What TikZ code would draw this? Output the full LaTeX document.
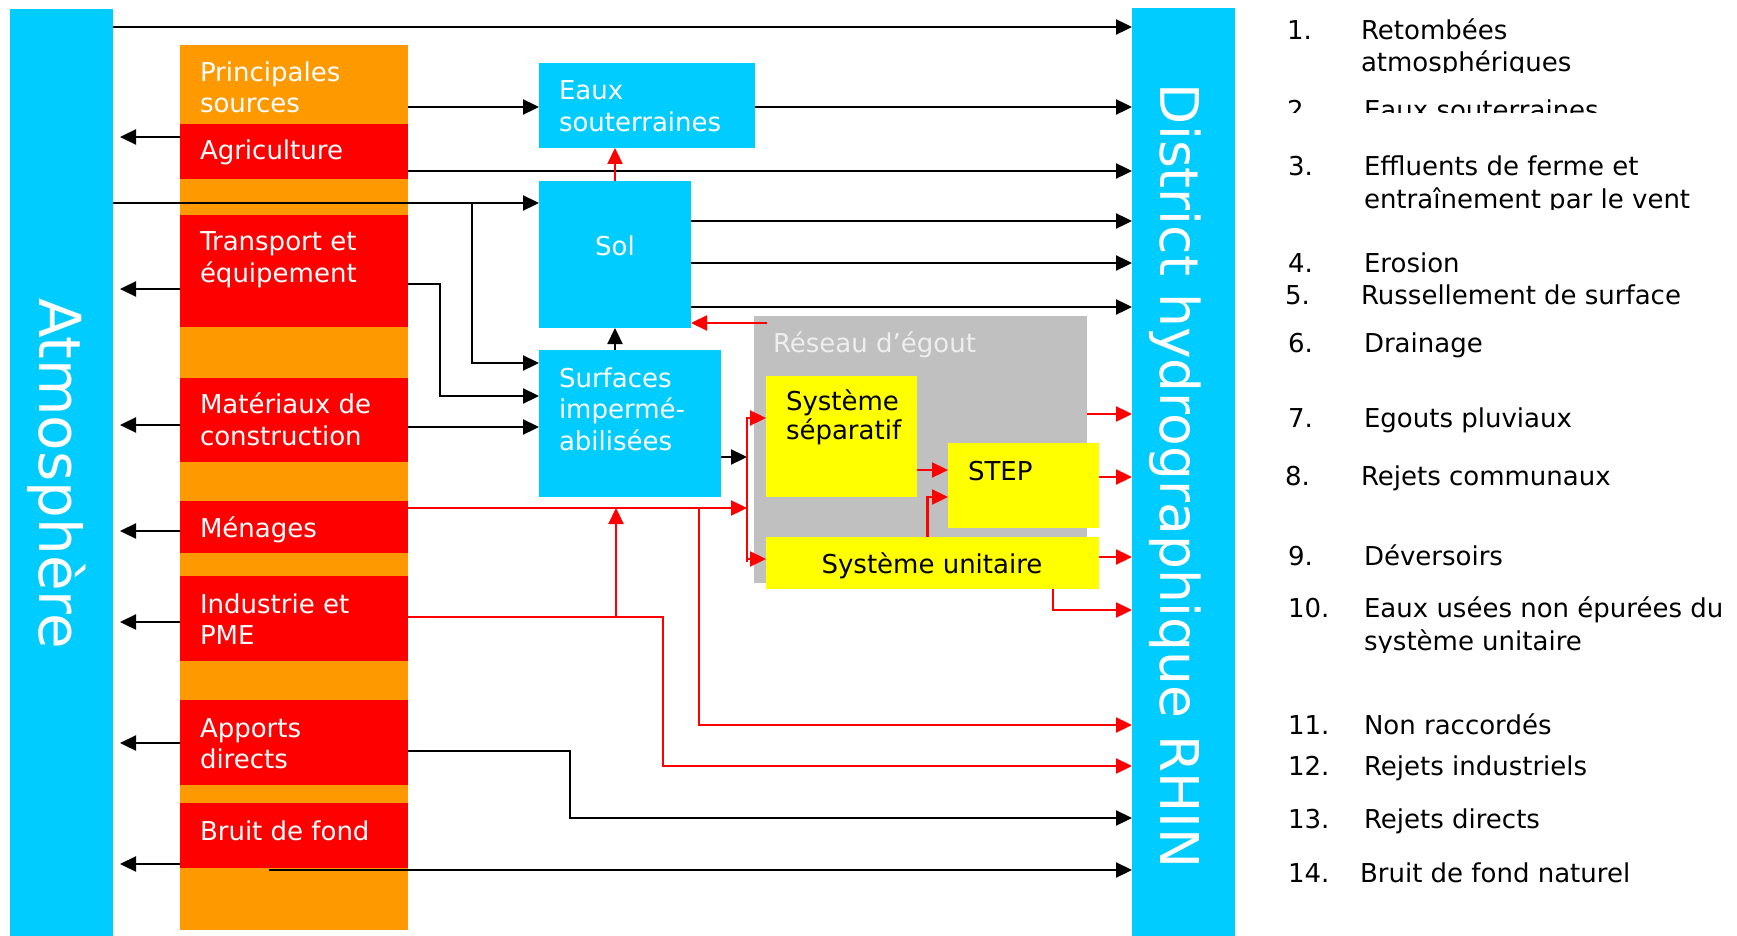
\documentclass[tikz,border=0pt]{standalone}
\usepackage{fontspec}
\setmainfont{DejaVu Sans}
\usetikzlibrary{arrows.meta,calc}
\definecolor{cyanbar}{RGB}{0,204,255}
\definecolor{orangecol}{RGB}{255,153,0}
\definecolor{redbox}{RGB}{255,0,0}
\definecolor{yellowbox}{RGB}{255,255,0}
\definecolor{greybox}{RGB}{192,192,192}
\definecolor{reseautxt}{RGB}{238,238,238}
\begin{document}
\begin{tikzpicture}[x=1pt,y=-1pt,
  box/.style={draw=none,inner sep=0pt,outer sep=0pt,anchor=north west,rectangle},
  lbl/.style={anchor=base west,inner sep=0pt,outer sep=0pt,font=\fontsize{26}{31}\selectfont},
  wlbl/.style={lbl,text=white},
  leg/.style={lbl},
  bigtxt/.style={rotate=-90,anchor=base west,inner sep=0pt,outer sep=0pt,text=white,font=\fontsize{54}{60}\selectfont},
  arr/.style={line width=2.3pt,-{Triangle[length=16pt,width=15pt]}},
  rarr/.style={arr,draw=red},
  rline/.style={line width=2.3pt,draw=red}
]
\useasboundingbox (0,0) rectangle (1737,936);

% side bars
\node[box,fill=cyanbar,minimum width=103pt,minimum height=927pt] (atm) at (10,9) {};
\node[bigtxt,font=\fontsize{58}{64}\selectfont] (atmtxt) at (39,298) {Atmosphère};
\node[box,fill=cyanbar,minimum width=103pt,minimum height=928pt] (dist) at (1132,8) {};
\node[bigtxt,font=\fontsize{53.5}{60}\selectfont] (disttxt) at (1160,84) {District hydrographique RHIN};

% source column
\node[box,fill=orangecol,minimum width=228pt,minimum height=885pt] (col) at (180,45) {};
\node[box,fill=redbox,minimum width=228pt,minimum height=55pt] (agri) at (180,124) {};
\node[box,fill=redbox,minimum width=228pt,minimum height=112pt] (trans) at (180,215) {};
\node[box,fill=redbox,minimum width=228pt,minimum height=84pt] (mat) at (180,378) {};
\node[box,fill=redbox,minimum width=228pt,minimum height=52pt] (men) at (180,501) {};
\node[box,fill=redbox,minimum width=228pt,minimum height=85pt] (ind) at (180,576) {};
\node[box,fill=redbox,minimum width=228pt,minimum height=85pt] (app) at (180,700) {};
\node[box,fill=redbox,minimum width=228pt,minimum height=65pt] (bruit) at (180,803) {};

\node[wlbl] (tprin1) at (200,82) {Principales};
\node[wlbl] (tprin2) at (200,113) {sources};
\node[wlbl] (tagri) at (200,160) {Agriculture};
\node[wlbl] (ttrans1) at (200,250) {Transport et};
\node[wlbl] (ttrans2) at (200,282) {équipement};
\node[wlbl] (tmat1) at (200,413) {Matériaux de};
\node[wlbl] (tmat2) at (200,445) {construction};
\node[wlbl] (tmen) at (200,537) {Ménages};
\node[wlbl] (tind1) at (200,613) {Industrie et};
\node[wlbl] (tind2) at (200,644) {PME};
\node[wlbl] (tapp1) at (200,737) {Apports};
\node[wlbl] (tapp2) at (200,768) {directs};
\node[wlbl] (tbruit) at (200,840) {Bruit de fond};

% compartments
\node[box,fill=cyanbar,minimum width=216pt,minimum height=85pt] (eaux) at (539,63) {};
\node[wlbl] (teaux1) at (559,100) {Eaux};
\node[wlbl] (teaux2) at (559,132) {souterraines};
\node[box,fill=cyanbar,minimum width=152pt,minimum height=147pt] (sol) at (539,181) {};
\node[wlbl,anchor=base] (tsol) at (615,255) {Sol};
\node[box,fill=cyanbar,minimum width=182pt,minimum height=147pt] (surf) at (539,350) {};
\node[wlbl] (tsurf1) at (559,387) {Surfaces};
\node[wlbl] (tsurf2) at (559,418) {impermé-};
\node[wlbl] (tsurf3) at (559,450) {abilisées};

\node[box,fill=greybox,minimum width=333pt,minimum height=267pt] (res) at (754,316) {};
\node[lbl,text=reseautxt] (tres) at (773,352) {Réseau d’égout};
\node[box,fill=yellowbox,minimum width=151pt,minimum height=121pt] (sep) at (766,376) {};
\node[lbl] (tsep1) at (786,410) {Système};
\node[lbl] (tsep2) at (786,439) {séparatif};
\node[box,fill=yellowbox,minimum width=151pt,minimum height=85pt] (step) at (948,443) {};
\node[lbl] (tstep) at (968,480) {STEP};
\node[box,fill=yellowbox,minimum width=333pt,minimum height=52pt] (uni) at (766,537) {};
\node[lbl,anchor=base] (tuni) at (932,573) {Système unitaire};

% black connectors
\draw[arr] (atm.east |- 0,27) -- (dist.west |- 0,27);
\draw[arr] (col.east |- 0,107) -- (eaux.west |- 0,107);
\draw[arr] (eaux.east |- 0,107) -- (dist.west |- 0,107);
\draw[arr] (agri.east |- 0,171) -- (dist.west |- 0,171);
\draw[arr] (atm.east |- 0,203) -- (sol.west |- 0,203);
\coordinate (j1) at (472,203);
\draw[arr] (j1) |- (surf.west |- 0,363);
\draw[arr] (trans.east |- 0,284) -- ++(32,0) |- (surf.west |- 0,396);
\draw[arr] (mat.east |- 0,427) -- (surf.west |- 0,427);
\draw[arr] (sol.south |- surf.north) -- (sol.south);
\draw[arr] (sol.east |- 0,221) -- (dist.west |- 0,221);
\draw[arr] (sol.east |- 0,263) -- (dist.west |- 0,263);
\draw[arr] (sol.east |- 0,307) -- (dist.west |- 0,307);
\coordinate (bt) at (747,417);
\coordinate (bb) at (747,562);
\draw[arr] (surf.east |- 0,457) -- (bt |- 0,457);
\draw[arr] (app.east |- 0,751) -- (570,751) |- (dist.west |- 0,818);
\coordinate (bstart) at (269,870);
\draw[arr] (bstart) -- (dist.west |- 0,870);

% arrows back to the atmosphere
\foreach \b/\yy in {agri/137,trans/289,mat/425,men/531,ind/622,app/743,bruit/864}
  \draw[arr,shorten >=7pt] (\b.west |- 0,\yy) -- (atm.east |- 0,\yy);

% red connectors
\draw[rarr] (sol.north) -- (sol.north |- eaux.south);
\draw[rarr] ($(res.north west)+(13,7)$) -- (sol.east |- 0,323);
\draw[rline] (bt) -- (bb);
\draw[rarr] (bt |- 0,418) -- (sep.west |- 0,418);
\draw[rarr] (bb |- 0,559) -- (uni.west |- 0,559);
\draw[rarr] (men.east |- 0,508) -- (bt |- 0,508);
\coordinate (j2) at (699,508);
\draw[rarr] (j2) |- (dist.west |- 0,725);
\draw[rarr] (ind.east |- 0,617) -- (663,617) |- (dist.west |- 0,766);
\coordinate (j3) at (616,617);
\draw[rarr] (j3) -- (616,508);
\draw[rarr] (sep.east |- 0,470) -- (step.west |- 0,470);
\draw[rarr] ($(uni.north)+(-5,0)$) |- (step.west |- 0,497);
\draw[rarr] (res.east |- 0,414) -- (dist.west |- 0,414);
\draw[rarr] (step.east |- 0,477) -- (dist.west |- 0,477);
\draw[rarr] (uni.east |- 0,557) -- (dist.west |- 0,557);
\draw[rarr] (uni.south -| 1053,0) |- (dist.west |- 0,610);

% legend
\node[leg] (n1) at (1287,40) {1.};
\node[leg] (l1) at (1361,40) {Retombées};
\begin{scope}
\clip (1250,45) rectangle (1737,73);
\node[leg] (l1b) at (1361,72) {atmosphériques};
\end{scope}
\begin{scope}
\clip (1250,80) rectangle (1737,113);
\node[leg] (n2) at (1287,119.5) {2.};
\node[leg] (l2) at (1364,119.5) {Eaux souterraines};
\end{scope}
\node[leg] (n3) at (1288,176) {3.};
\node[leg] (l3) at (1364,176) {Effluents de ferme et};
\begin{scope}
\clip (1250,180) rectangle (1737,209.5);
\node[leg] (l3b) at (1364,208) {entraînement par le vent};
\end{scope}
\node[leg] (n4) at (1288,272) {4.};
\node[leg] (l4) at (1364,272) {Erosion};
\node[leg] (n5) at (1285,304) {5.};
\node[leg] (l5) at (1361,304) {Russellement de surface};
\node[leg] (n6) at (1288,352) {6.};
\node[leg] (l6) at (1364,352) {Drainage};
\node[leg] (n7) at (1288,427) {7.};
\node[leg] (l7) at (1364,427) {Egouts pluviaux};
\node[leg] (n8) at (1285,485) {8.};
\node[leg] (l8) at (1361,485) {Rejets communaux};
\node[leg] (n9) at (1288,565) {9.};
\node[leg] (l9) at (1364,565) {Déversoirs};
\node[leg] (n10) at (1288,617) {10.};
\node[leg] (l10) at (1364,617) {Eaux usées non épurées du};
\begin{scope}
\clip (1250,625) rectangle (1737,652.7);
\node[leg] (l10b) at (1364,650) {système unitaire};
\end{scope}
\node[leg] (n11) at (1288,734) {11.};
\node[leg] (l11) at (1364,734) {Non raccordés};
\node[leg] (n12) at (1288,775) {12.};
\node[leg] (l12) at (1364,775) {Rejets industriels};
\node[leg] (n13) at (1288,828) {13.};
\node[leg] (l13) at (1364,828) {Rejets directs};
\node[leg] (n14) at (1288,882) {14.};
\node[leg] (l14) at (1360,882) {Bruit de fond naturel};
\end{tikzpicture}
\end{document}
